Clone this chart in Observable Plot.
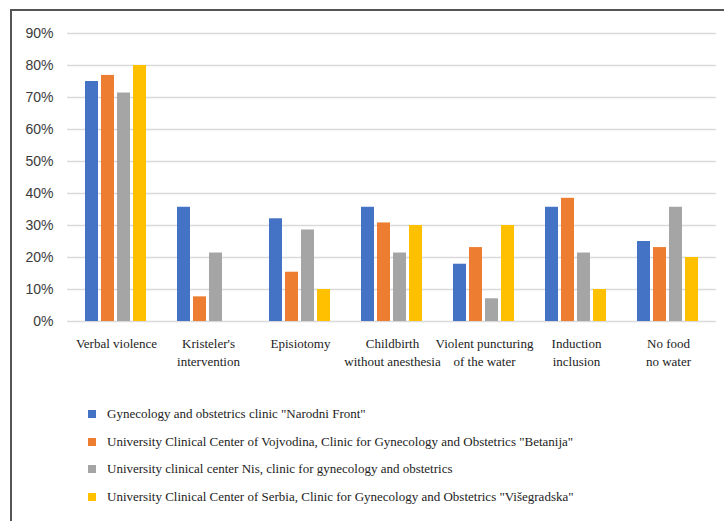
<!DOCTYPE html>
<html>
<head>
<meta charset="utf-8">
<script src="https://cdn.jsdelivr.net/npm/d3@7"></script>
<script src="https://cdn.jsdelivr.net/npm/@observablehq/plot@0.6"></script>
<style>
  html, body { margin: 0; padding: 0; background: #fff; }
  #wrap { position: relative; width: 724px; height: 521px; overflow: hidden; background: #fff; }
  #frame { position: absolute; left: 10px; top: 9px; width: 730px; height: 530px;
           border-left: 2px solid #555; border-top: 2px solid #555; box-sizing: border-box; }
  .layer { position: absolute; left: 0; top: 0; }
  #legend { position: absolute; left: 88px; top: 400px; font-family: "Liberation Serif", serif;
            font-size: 13px; color: #222; }
  .row { height: 27.7px; display: flex; align-items: center; }
  .sw { width: 8px; height: 8px; margin-right: 11px; flex: none; }
</style>
</head>
<body>
<div id="wrap">
  <div id="frame"></div>
  <div id="bg" class="layer"></div>
  <div id="fg" class="layer"></div>
  <div id="legend"></div>
</div>
<script>
const categories = ["Verbal violence", "Kristeler's intervention", "Episiotomy",
  "Childbirth without anesthesia", "Violent puncturing of the water",
  "Induction inclusion", "No food no water"];
const tickLabels = ["Verbal violence", "Kristeler's\nintervention", "Episiotomy",
  "Childbirth\nwithout anesthesia", "Violent puncturing\nof the water",
  "Induction\ninclusion", "No food\nno water"];
const seriesNames = [
  "Gynecology and obstetrics clinic \"Narodni Front\"",
  "University Clinical Center of Vojvodina, Clinic for Gynecology and Obstetrics \"Betanija\"",
  "University clinical center Nis, clinic for gynecology and obstetrics",
  "University Clinical Center of Serbia, Clinic for Gynecology and Obstetrics \"Višegradska\""
];
const colors = ["#4472C4", "#ED7D31", "#A5A5A5", "#FFC000"];
const narodniFront = [0.75, 0.357, 0.321, 0.357, 0.179, 0.357, 0.25];
const betanija     = [0.769, 0.077, 0.154, 0.308, 0.231, 0.385, 0.231];
const nis          = [0.714, 0.214, 0.286, 0.214, 0.071, 0.214, 0.357];
const visegradska  = [0.80, 0.0, 0.10, 0.30, 0.30, 0.10, 0.20];
const yTicks = [0, 0.1, 0.2, 0.3, 0.4, 0.5, 0.6, 0.7, 0.8, 0.9];

const seriesValues = [narodniFront, betanija, nis, visegradska];
const rows = [];
seriesValues.forEach((vals, s) => vals.forEach((v, i) =>
  rows.push({category: categories[i], series: seriesNames[s], value: v})));

const W = 724, H = 380;
const margins = {marginLeft: 67, marginRight: 8, marginTop: 33, marginBottom: 59};

const bg = Plot.plot({
  width: W, height: H, ...margins,
  style: {background: "transparent"},
  x: {domain: categories, paddingInner: 0.3, paddingOuter: 0.15},
  y: {domain: [0, 0.9]},
  marks: [
    Plot.gridY(yTicks, {stroke: "#d9d9d9", strokeOpacity: 1, strokeWidth: 1.3}),
    Plot.axisY(yTicks, {tickSize: 0, tickPadding: 14, tickFormat: d3.format(".0%"),
      fontSize: 14, fill: "#3a3a3a", fontFamily: "Liberation Sans, sans-serif", label: null}),
    Plot.axisX({tickSize: 0, tickPadding: 13, lineHeight: 1.42,
      tickFormat: d => tickLabels[categories.indexOf(d)],
      fontSize: 13, fill: "#222", fontFamily: "Liberation Serif, serif", label: null})
  ]
});
document.getElementById("bg").appendChild(bg);

const fg = Plot.plot({
  width: W, height: H, ...margins,
  style: {background: "transparent"},
  fx: {domain: categories, paddingInner: 0.3, paddingOuter: 0.15, axis: null, label: null},
  x: {domain: seriesNames, paddingInner: 0.2, paddingOuter: 0, axis: null},
  y: {domain: [0, 0.9], axis: null},
  color: {domain: seriesNames, range: colors},
  marks: [
    Plot.barY(rows, {fx: "category", x: "series", y: "value", fill: "series"})
  ]
});
document.getElementById("fg").appendChild(fg);

const legend = d3.select("#legend");
seriesNames.forEach((name, i) => {
  const r = legend.append("div").attr("class", "row");
  r.append("div").attr("class", "sw").style("background", colors[i]);
  r.append("span").text(name);
});
</script>
</body>
</html>
